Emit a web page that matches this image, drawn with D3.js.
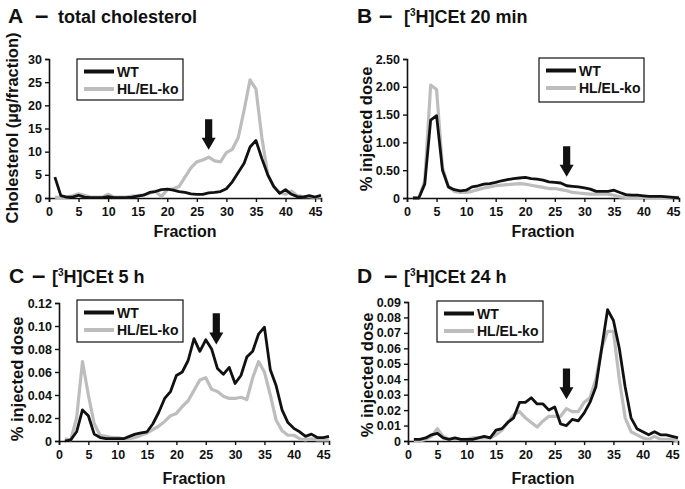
<!DOCTYPE html>
<html><head><meta charset="utf-8">
<script src="https://cdn.jsdelivr.net/npm/d3@7"></script>
<style>
body{margin:0;background:#fff}
text{font-family:"Liberation Sans",Arial,Helvetica,sans-serif;font-weight:bold;fill:#111}
</style>
</head><body>
<svg id="c" width="685" height="489"></svg>
<script>
const fractions = [1,2,3,4,5,6,7,8,9,10,11,12,13,14,15,16,17,18,19,20,21,22,23,24,25,26,27,28,29,30,31,32,33,34,35,36,37,38,39,40,41,42,43,44,45,46];
const xTicks = [0,5,10,15,20,25,30,35,40,45];
const seriesNames = ["WT","HL/EL-ko"];

const aWT = [4.5,0.5,0.2,0.2,0.6,0.2,0.1,0.1,0.1,0.3,0.1,0.1,0.1,0.2,0.4,0.6,1.2,1.4,1.8,1.9,1.7,1.4,1.2,0.9,0.8,0.8,1.1,1.2,1.4,2.0,3.5,5.5,7.5,11.0,12.4,8.5,5.0,2.5,1.0,1.8,0.8,0.3,0.2,0.5,0.2,0.6];
const aKO = [0.2,0.1,0.2,0.5,0.9,0.6,0.2,0.2,0.2,0.8,0.2,0.2,0.2,0.4,0.5,0.7,1.0,1.5,0.3,1.8,2.0,2.5,4.5,6.5,7.8,8.2,8.8,8.0,7.8,9.8,10.5,13.0,19.0,25.5,23.5,13.0,5.0,2.5,1.2,0.8,1.5,0.5,0.3,0.3,0.1,0.3];
const aTicks = [0,5,10,15,20,25,30];

const bWT = [0,0,0.25,1.40,1.48,0.50,0.20,0.15,0.13,0.14,0.20,0.22,0.25,0.26,0.28,0.31,0.33,0.35,0.36,0.37,0.35,0.34,0.32,0.29,0.28,0.27,0.22,0.21,0.20,0.18,0.16,0.12,0.12,0.12,0.14,0.10,0.06,0.05,0.05,0.04,0.03,0.03,0.03,0.02,0.01,0];
const bKO = [0,0,0.30,2.03,1.95,0.55,0.20,0.12,0.10,0.10,0.12,0.15,0.18,0.20,0.22,0.23,0.24,0.25,0.26,0.25,0.23,0.21,0.19,0.17,0.17,0.15,0.13,0.10,0.09,0.08,0.07,0.07,0.07,0.07,0.05,0.02,0.01,0.01,0.01,0.01,0.01,0.01,0.01,0.01,0.01,0.01];
const bTicks = [0,0.5,1.0,1.5,2.0,2.5];

const cWT = [0,0.001,0.008,0.027,0.022,0.006,0.003,0.002,0.002,0.002,0.002,0.004,0.006,0.007,0.008,0.015,0.025,0.037,0.043,0.057,0.060,0.070,0.089,0.078,0.088,0.080,0.063,0.058,0.064,0.050,0.057,0.073,0.078,0.093,0.099,0.062,0.048,0.027,0.016,0.011,0.008,0.004,0.006,0.003,0.003,0.004];
const cKO = [0.002,0.001,0.020,0.069,0.040,0.015,0.005,0.004,0.003,0.003,0.002,0.002,0.003,0.005,0.007,0.010,0.013,0.017,0.022,0.024,0.030,0.035,0.044,0.053,0.055,0.045,0.043,0.039,0.037,0.037,0.038,0.036,0.055,0.069,0.060,0.040,0.018,0.009,0.005,0.005,0.002,0.001,0.002,0.001,0.001,0.001];
const cTicks = [0,0.02,0.04,0.06,0.08,0.10,0.12];

const dWT = [0.001,0.001,0.002,0.004,0.005,0.002,0.001,0.002,0.001,0.001,0.001,0.002,0.003,0.002,0.007,0.008,0.012,0.015,0.025,0.025,0.028,0.024,0.024,0.020,0.022,0.011,0.010,0.014,0.013,0.018,0.025,0.035,0.060,0.085,0.078,0.060,0.035,0.015,0.008,0.006,0.004,0.006,0.004,0.004,0.003,0.002];
const dKO = [0,0,0.001,0.003,0.008,0.003,0.001,0.001,0.001,0.001,0.002,0.002,0.002,0.002,0.004,0.007,0.012,0.017,0.019,0.015,0.012,0.009,0.013,0.016,0.016,0.016,0.021,0.019,0.019,0.025,0.028,0.040,0.060,0.071,0.071,0.040,0.015,0.006,0.004,0.002,0.001,0.003,0.001,0.001,0.001,0];
const dTicks = [0,0.01,0.02,0.03,0.04,0.05,0.06,0.07,0.08,0.09];

// arrows: [fraction, top value, tip value]
const arrowA = [27, 17, 10.4];
const arrowB = [27, 0.93, 0.38];
const arrowC = [26.8, 0.111, 0.084];
const arrowD = [27, 0.047, 0.027];

const svg = d3.select("#c");

const panels = [
  {letter:"A", sub:"total cholesterol", sup:null, wt:aWT, ko:aKO, ticks:aTicks, fmt:d=>String(d), arrow:arrowA,
   x0:49, x1:321, y0:198, y1:59, ymax:30, ylab:"Cholesterol (\u00b5g/fraction)", ylx:12, yly:128,
   tx:8, dx:35, sx:58, ty:23, fx:185, fy:237, leg:[77,59,106,41]},
  {letter:"B", sub:" 20 min", sup:true, wt:bWT, ko:bKO, ticks:bTicks, fmt:d=>d===0?"0":d.toFixed(2), arrow:arrowB,
   x0:407, x1:679, y0:198, y1:59, ymax:2.5, ylab:"% injected dose", ylx:366, yly:129,
   tx:357, dx:379, sx:404, ty:23, fx:543, fy:237, leg:[539,58,105,44]},
  {letter:"C", sub:" 5 h", sup:true, wt:cWT, ko:cKO, ticks:cTicks, fmt:d=>d===0?"0":d.toFixed(2), arrow:arrowC,
   x0:59, x1:329, y0:441, y1:303, ymax:0.12, ylab:"% injected dose", ylx:17, yly:379,
   tx:9, dx:32, sx:52, ty:283, fx:194, fy:484, leg:[77,300,106,42]},
  {letter:"D", sub:" 24 h", sup:true, wt:dWT, ko:dKO, ticks:dTicks, fmt:d=>d===0?"0":d.toFixed(2), arrow:arrowD,
   x0:408, x1:678, y0:441, y1:302, ymax:0.09, ylab:"% injected dose", ylx:367, yly:375,
   tx:357, dx:384, sx:404, ty:283, fx:543, fy:484, leg:[437,301,106,41]}
];

panels.forEach(p => {
  const g = svg.append("g");
  const x = d3.scaleLinear().domain([0,46]).range([p.x0,p.x1]);
  const y = d3.scaleLinear().domain([0,p.ymax]).range([p.y0,p.y1]);

  const xa = g.append("g").attr("transform",`translate(0,${p.y0})`)
    .call(d3.axisBottom(x).tickValues(xTicks).tickSize(4).tickPadding(5).tickFormat(d=>d));
  const ya = g.append("g").attr("transform",`translate(${p.x0},0)`)
    .call(d3.axisLeft(y).tickValues(p.ticks).tickSize(4).tickPadding(3).tickFormat(p.fmt));
  [xa,ya].forEach(a=>{
    a.select(".domain").attr("stroke","#111").attr("stroke-width",1.6);
    a.selectAll(".tick line").attr("stroke","#111").attr("stroke-width",1.4);
    a.selectAll(".tick text").attr("font-size",12.5).attr("font-family",'"Liberation Sans",Arial,sans-serif').attr("font-weight","bold").attr("fill","#111");
  });

  const line = d3.line().x((d,i)=>x(fractions[i])).y(d=>y(d));
  g.append("path").datum(p.ko).attr("d",line).attr("fill","none").attr("stroke","#bdbdbd").attr("stroke-width",3.2).attr("stroke-linejoin","round");
  g.append("path").datum(p.wt).attr("d",line).attr("fill","none").attr("stroke","#111").attr("stroke-width",2.8).attr("stroke-linejoin","round");

  const ax = x(p.arrow[0]), aTop = y(p.arrow[1]), aTip = y(p.arrow[2]);
  const hw = 3.6, hh = 7, hl = 12;
  g.append("path").attr("fill","#111")
    .attr("d",`M${ax-hw},${aTop}L${ax+hw},${aTop}L${ax+hw},${aTip-hl}L${ax+hh},${aTip-hl}L${ax},${aTip}L${ax-hh},${aTip-hl}L${ax-hw},${aTip-hl}Z`);

  const [lx,ly,lw,lh] = p.leg;
  g.append("rect").attr("x",lx).attr("y",ly).attr("width",lw).attr("height",lh).attr("fill","#fff").attr("stroke","#111").attr("stroke-width",1.2);
  const rows = [{n:seriesNames[0],c:"#111"},{n:seriesNames[1],c:"#bdbdbd"}];
  rows.forEach((r,i)=>{
    const yy = ly + 12.5 + i*17.5;
    g.append("line").attr("x1",lx+7).attr("x2",lx+37).attr("y1",yy).attr("y2",yy).attr("stroke",r.c).attr("stroke-width",4);
    g.append("text").attr("x",lx+40).attr("y",yy+5).attr("font-size",14).text(r.n);
  });

  g.append("text").attr("x",p.tx).attr("y",p.ty).attr("font-size",21).text(p.letter);
  g.append("text").attr("x",p.dx).attr("y",p.ty).attr("font-size",24).text("\u2013");
  const t = g.append("text").attr("x",p.sx).attr("y",p.ty).attr("font-size",18);
  if (p.sup) {
    t.append("tspan").text("[");
    t.append("tspan").attr("font-size",10).attr("dy",-7).text("3");
    t.append("tspan").attr("dy",7).text("H]CEt" + p.sub);
  } else {
    t.text(p.sub);
  }

  g.append("text").attr("x",p.fx).attr("y",p.fy).attr("text-anchor","middle").attr("font-size",16).text("Fraction");
  g.append("text").attr("transform",`translate(${p.ylx},${p.yly}) rotate(-90)`).attr("text-anchor","middle").attr("dy","0.35em").attr("font-size",16.5).text(p.ylab);
});
</script>
</body></html>
